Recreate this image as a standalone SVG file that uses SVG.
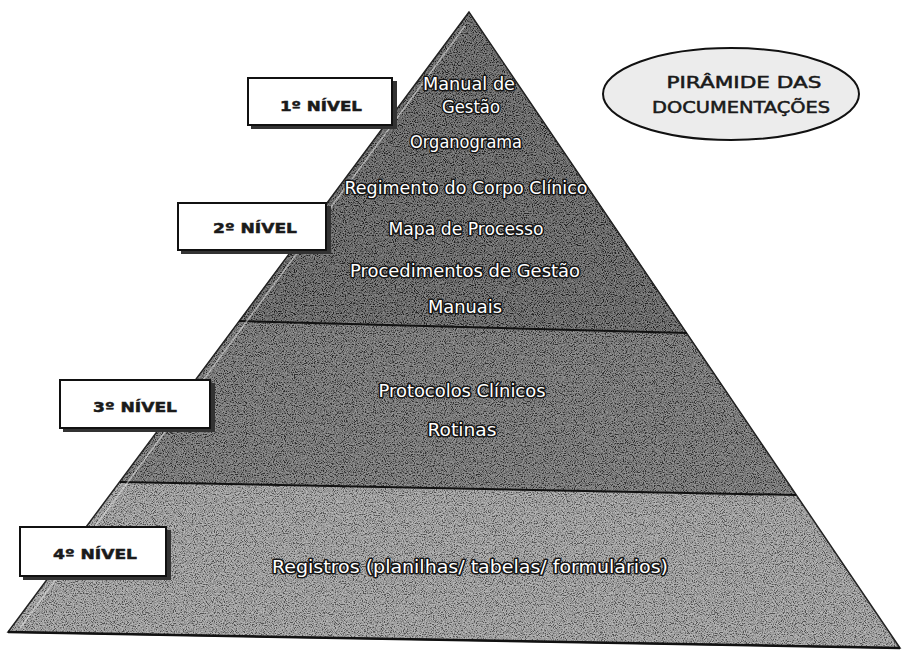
<svg xmlns="http://www.w3.org/2000/svg" width="908" height="653" viewBox="0 0 908 653">
<defs>
<style>
.ptxt{font-family:"DejaVu Sans","Liberation Sans",sans-serif;font-size:17px;fill:#ffffff;stroke:#151515;stroke-width:3;paint-order:stroke;stroke-linejoin:round;text-anchor:middle;}
.lbox{fill:#ffffff;stroke:#111111;stroke-width:2;}
.lshadow{fill:#333333;}
.ltxt{font-family:"DejaVu Sans","Liberation Sans",sans-serif;font-size:14px;font-weight:bold;fill:#1a1a1a;stroke:#1a1a1a;stroke-width:0.5;text-anchor:middle;}
.etxt{font-family:"DejaVu Sans","Liberation Sans",sans-serif;font-size:15px;fill:#1a1a1a;stroke:#1a1a1a;stroke-width:0.5;text-anchor:middle;}
.sep{stroke:#111111;stroke-width:2;fill:none;}
</style>
<clipPath id="pyr"><polygon points="469,12 8,632 900,648"/></clipPath>
<filter id="grain" x="0" y="0" width="100%" height="100%">
<feTurbulence type="fractalNoise" baseFrequency="0.9" numOctaves="2" seed="7"/>
<feColorMatrix type="matrix" values="3 0 0 0 -1  3 0 0 0 -1  3 0 0 0 -1  0 0 0 0 0.4"/>
</filter>
</defs>

<rect width="908" height="653" fill="#ffffff"/>

<g id="pyramid">
  <polygon id="band12" points="469,12 239,321 687,333" fill="#353535"/>
  <polygon id="band3" points="239,321 687,333 796,495 120,482" fill="#4c4c4c"/>
  <polygon id="band4" points="120,482 796,495 900,648 8,632" fill="#888888"/>
  <g clip-path="url(#pyr)">
    <rect width="908" height="653" filter="url(#grain)"/>
  </g>
  <polygon points="469,12 8,632 900,648" fill="none" stroke="#222" stroke-width="1.5"/>
  <line x1="239" y1="321" x2="687" y2="333" class="sep"/>
  <line x1="120" y1="482" x2="796" y2="495" class="sep"/>
  <line x1="8" y1="632" x2="900" y2="648" stroke="#111" stroke-width="2.5"/>
  <line x1="465" y1="26" x2="20" y2="628" stroke="#e8e8e8" stroke-width="1.5" opacity="0.55"/>
</g>

<g id="level-texts">
  <text class="ptxt" x="469" y="90" textLength="92" lengthAdjust="spacingAndGlyphs">Manual de</text>
  <text class="ptxt" x="471" y="113" textLength="58" lengthAdjust="spacingAndGlyphs">Gestão</text>
  <text class="ptxt" x="466" y="148" textLength="112" lengthAdjust="spacingAndGlyphs">Organograma</text>
  <text class="ptxt" x="466" y="194" textLength="243" lengthAdjust="spacingAndGlyphs">Regimento do Corpo Clínico</text>
  <text class="ptxt" x="466" y="235" textLength="155" lengthAdjust="spacingAndGlyphs">Mapa de Processo</text>
  <text class="ptxt" x="465" y="277" textLength="230" lengthAdjust="spacingAndGlyphs">Procedimentos de Gestão</text>
  <text class="ptxt" x="465" y="313" textLength="74" lengthAdjust="spacingAndGlyphs">Manuais</text>
  <text class="ptxt" x="462" y="397" textLength="167" lengthAdjust="spacingAndGlyphs">Protocolos Clínicos</text>
  <text class="ptxt" x="462" y="436" textLength="69" lengthAdjust="spacingAndGlyphs">Rotinas</text>
  <text class="ptxt" x="470" y="573" textLength="396" lengthAdjust="spacingAndGlyphs">Registros (planilhas/ tabelas/ formulários)</text>
</g>

<g id="nivel1">
  <rect class="lshadow" x="251" y="81" width="146" height="48"/>
  <rect class="lbox" x="248" y="78" width="144" height="47"/>
  <text class="ltxt" x="321" y="111" textLength="82" lengthAdjust="spacingAndGlyphs">1º NÍVEL</text>
</g>
<g id="nivel2">
  <rect class="lshadow" x="181" y="206" width="150" height="48"/>
  <rect class="lbox" x="178" y="203" width="148" height="47"/>
  <text class="ltxt" x="255" y="233" textLength="84" lengthAdjust="spacingAndGlyphs">2º NÍVEL</text>
</g>
<g id="nivel3">
  <rect class="lshadow" x="63" y="383" width="152" height="49"/>
  <rect class="lbox" x="60" y="380" width="150" height="48"/>
  <text class="ltxt" x="135" y="412" textLength="84" lengthAdjust="spacingAndGlyphs">3º NÍVEL</text>
</g>
<g id="nivel4">
  <rect class="lshadow" x="23" y="530" width="148" height="50"/>
  <rect class="lbox" x="20" y="527" width="146" height="49"/>
  <text class="ltxt" x="95" y="559" textLength="84" lengthAdjust="spacingAndGlyphs">4º NÍVEL</text>
</g>

<g id="title">
  <ellipse cx="731" cy="94" rx="128" ry="46" fill="#ececec" stroke="#111" stroke-width="2"/>
  <text class="etxt" x="744" y="88" textLength="155" lengthAdjust="spacingAndGlyphs">PIRÂMIDE DAS</text>
  <text class="etxt" x="741" y="113" textLength="178" lengthAdjust="spacingAndGlyphs">DOCUMENTAÇÕES</text>
</g>
</svg>
